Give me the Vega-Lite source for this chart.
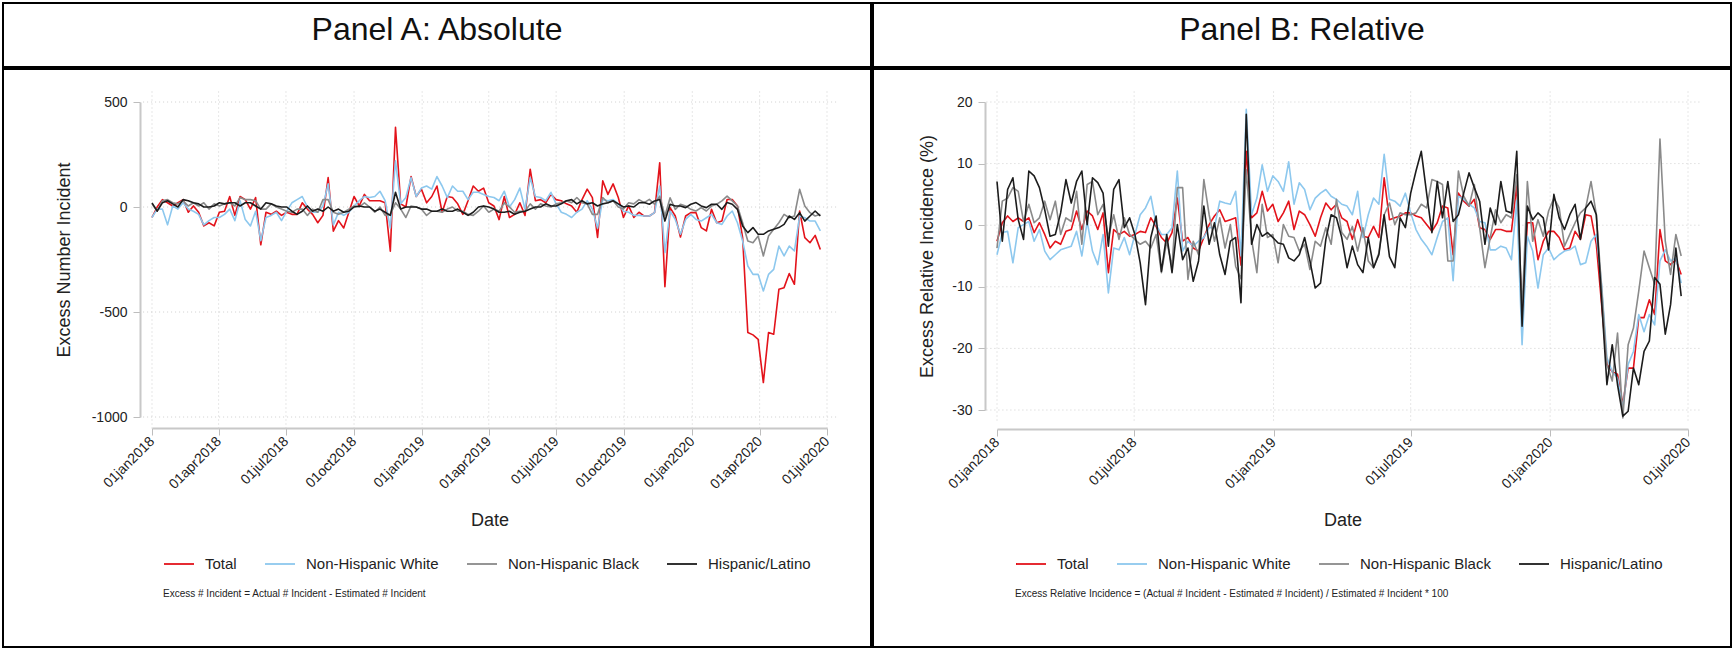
{
  "$schema": "https://vega.github.io/schema/vega-lite/v6.json",
  "padding": {"left": 2, "top": 2, "right": 0, "bottom": 0},
  "background": "white",
  "config": {
    "font": "Liberation Sans",
    "view": {"stroke": "black", "strokeWidth": 2},
    "axis": {"labelColor": "#222222", "titleColor": "#222222", "labelFontSize": 14, "titleFontSize": 18, "titleFontWeight": "normal", "tickSize": 7, "tickColor": "#bdbdbd", "domainColor": "#c8c8c8", "domainWidth": 2, "grid": false},
    "legend": {"labelFontSize": 15, "labelColor": "#222222", "labelLimit": 400, "symbolType": "stroke", "symbolSize": 900, "symbolStrokeWidth": 1.8, "labelOffset": 10, "columnPadding": 24, "titleOrient": "bottom", "titleAnchor": "start", "titleFontSize": 10, "titleFontWeight": "normal", "titleColor": "#222222", "titleLimit": 1200, "titlePadding": 17}
  },
  "datasets": {
    "abs": [
      {"d":"2018-01-01","t":-50,"w":-50,"b":15,"h":20},
      {"d":"2018-01-08","t":0,"w":-10,"b":-20,"h":-20},
      {"d":"2018-01-15","t":35,"w":-10,"b":30,"h":20},
      {"d":"2018-01-22","t":20,"w":-85,"b":35,"h":30},
      {"d":"2018-01-29","t":5,"w":5,"b":20,"h":15},
      {"d":"2018-02-05","t":20,"w":-10,"b":15,"h":0},
      {"d":"2018-02-12","t":35,"w":20,"b":30,"h":35},
      {"d":"2018-02-19","t":-25,"w":-10,"b":5,"h":30},
      {"d":"2018-02-26","t":5,"w":-20,"b":20,"h":20},
      {"d":"2018-03-05","t":-25,"w":-35,"b":5,"h":15},
      {"d":"2018-03-12","t":-90,"w":-85,"b":20,"h":0},
      {"d":"2018-03-19","t":-75,"w":-65,"b":-10,"h":0},
      {"d":"2018-03-26","t":-90,"w":-50,"b":15,"h":5},
      {"d":"2018-04-02","t":-25,"w":-50,"b":5,"h":20},
      {"d":"2018-04-09","t":-20,"w":-35,"b":15,"h":15},
      {"d":"2018-04-16","t":50,"w":-10,"b":20,"h":20},
      {"d":"2018-04-23","t":-40,"w":-65,"b":5,"h":20},
      {"d":"2018-04-30","t":50,"w":30,"b":45,"h":5},
      {"d":"2018-05-07","t":35,"w":-60,"b":35,"h":20},
      {"d":"2018-05-14","t":-10,"w":-90,"b":35,"h":20},
      {"d":"2018-05-21","t":45,"w":-20,"b":30,"h":5},
      {"d":"2018-05-28","t":-180,"w":-160,"b":-10,"h":-10},
      {"d":"2018-06-04","t":-25,"w":-50,"b":-10,"h":20},
      {"d":"2018-06-11","t":-35,"w":-40,"b":15,"h":15},
      {"d":"2018-06-18","t":-20,"w":-25,"b":0,"h":5},
      {"d":"2018-06-25","t":-40,"w":-65,"b":-10,"h":0},
      {"d":"2018-07-02","t":-25,"w":-20,"b":-20,"h":0},
      {"d":"2018-07-09","t":-35,"w":20,"b":-25,"h":-20},
      {"d":"2018-07-16","t":-35,"w":35,"b":-10,"h":-35},
      {"d":"2018-07-23","t":20,"w":50,"b":-10,"h":-20},
      {"d":"2018-07-30","t":-10,"w":0,"b":-40,"h":5},
      {"d":"2018-08-06","t":-35,"w":-25,"b":-10,"h":-20},
      {"d":"2018-08-13","t":-75,"w":-25,"b":-25,"h":-10},
      {"d":"2018-08-20","t":-40,"w":5,"b":35,"h":-20},
      {"d":"2018-08-27","t":140,"w":110,"b":35,"h":0},
      {"d":"2018-09-03","t":-115,"w":-85,"b":-25,"h":-20},
      {"d":"2018-09-10","t":-65,"w":-25,"b":-35,"h":-10},
      {"d":"2018-09-17","t":-100,"w":-40,"b":-25,"h":-25},
      {"d":"2018-09-24","t":-25,"w":-25,"b":-10,"h":-20},
      {"d":"2018-10-01","t":50,"w":5,"b":5,"h":0},
      {"d":"2018-10-08","t":5,"w":30,"b":0,"h":5},
      {"d":"2018-10-15","t":60,"w":50,"b":20,"h":0},
      {"d":"2018-10-22","t":30,"w":45,"b":0,"h":0},
      {"d":"2018-10-29","t":30,"w":50,"b":-25,"h":-20},
      {"d":"2018-11-05","t":30,"w":75,"b":0,"h":-10},
      {"d":"2018-11-12","t":20,"w":30,"b":-40,"h":-25},
      {"d":"2018-11-19","t":-210,"w":-100,"b":-35,"h":-40},
      {"d":"2018-11-26","t":380,"w":220,"b":20,"h":70},
      {"d":"2018-12-03","t":15,"w":15,"b":-10,"h":-10},
      {"d":"2018-12-10","t":0,"w":45,"b":-50,"h":0},
      {"d":"2018-12-17","t":145,"w":140,"b":5,"h":0},
      {"d":"2018-12-24","t":50,"w":50,"b":0,"h":0},
      {"d":"2018-12-31","t":85,"w":90,"b":-10,"h":-10},
      {"d":"2019-01-07","t":20,"w":100,"b":-40,"h":-10},
      {"d":"2019-01-14","t":50,"w":85,"b":-20,"h":-20},
      {"d":"2019-01-21","t":100,"w":145,"b":-20,"h":-20},
      {"d":"2019-01-28","t":-25,"w":100,"b":-25,"h":-10},
      {"d":"2019-02-04","t":50,"w":45,"b":-10,"h":-20},
      {"d":"2019-02-11","t":45,"w":100,"b":0,"h":-20},
      {"d":"2019-02-18","t":15,"w":75,"b":-20,"h":-10},
      {"d":"2019-02-25","t":-35,"w":75,"b":-20,"h":-25},
      {"d":"2019-03-04","t":30,"w":35,"b":-35,"h":-40},
      {"d":"2019-03-11","t":100,"w":70,"b":-40,"h":-25},
      {"d":"2019-03-18","t":75,"w":70,"b":-20,"h":0},
      {"d":"2019-03-25","t":90,"w":60,"b":5,"h":5},
      {"d":"2019-04-01","t":20,"w":50,"b":-25,"h":0},
      {"d":"2019-04-08","t":5,"w":45,"b":-10,"h":-10},
      {"d":"2019-04-15","t":-60,"w":30,"b":-20,"h":-25},
      {"d":"2019-04-22","t":50,"w":75,"b":20,"h":-25},
      {"d":"2019-04-29","t":-50,"w":0,"b":0,"h":-20},
      {"d":"2019-05-06","t":-35,"w":35,"b":-25,"h":-35},
      {"d":"2019-05-13","t":20,"w":90,"b":-20,"h":-25},
      {"d":"2019-05-20","t":-40,"w":-10,"b":-20,"h":-20},
      {"d":"2019-05-27","t":180,"w":140,"b":15,"h":-10},
      {"d":"2019-06-03","t":30,"w":50,"b":-10,"h":0},
      {"d":"2019-06-10","t":35,"w":45,"b":15,"h":0},
      {"d":"2019-06-17","t":20,"w":30,"b":5,"h":15},
      {"d":"2019-06-24","t":60,"w":70,"b":0,"h":5},
      {"d":"2019-07-01","t":35,"w":15,"b":15,"h":5},
      {"d":"2019-07-08","t":30,"w":-25,"b":20,"h":15},
      {"d":"2019-07-15","t":15,"w":-35,"b":30,"h":30},
      {"d":"2019-07-22","t":5,"w":-50,"b":20,"h":35},
      {"d":"2019-07-29","t":-25,"w":-25,"b":45,"h":15},
      {"d":"2019-08-05","t":35,"w":-10,"b":20,"h":30},
      {"d":"2019-08-12","t":85,"w":30,"b":15,"h":15},
      {"d":"2019-08-19","t":45,"w":-10,"b":-35,"h":20},
      {"d":"2019-08-26","t":-145,"w":-100,"b":-35,"h":5},
      {"d":"2019-09-02","t":125,"w":35,"b":45,"h":15},
      {"d":"2019-09-09","t":60,"w":30,"b":20,"h":20},
      {"d":"2019-09-16","t":110,"w":35,"b":30,"h":30},
      {"d":"2019-09-23","t":45,"w":15,"b":0,"h":15},
      {"d":"2019-09-30","t":-50,"w":-20,"b":-10,"h":0},
      {"d":"2019-10-07","t":5,"w":-25,"b":20,"h":5},
      {"d":"2019-10-14","t":-50,"w":-40,"b":15,"h":0},
      {"d":"2019-10-21","t":-25,"w":-40,"b":35,"h":20},
      {"d":"2019-10-28","t":-43,"w":-43,"b":21,"h":21},
      {"d":"2019-11-04","t":-43,"w":-43,"b":36,"h":13},
      {"d":"2019-11-11","t":-27,"w":-27,"b":13,"h":29},
      {"d":"2019-11-18","t":211,"w":100,"b":52,"h":36},
      {"d":"2019-11-25","t":-380,"w":-217,"b":-43,"h":-67},
      {"d":"2019-12-02","t":-3,"w":-19,"b":44,"h":13},
      {"d":"2019-12-09","t":-43,"w":-59,"b":-11,"h":5},
      {"d":"2019-12-16","t":-143,"w":-130,"b":13,"h":5},
      {"d":"2019-12-23","t":-43,"w":-59,"b":5,"h":-3},
      {"d":"2019-12-30","t":-27,"w":-35,"b":-11,"h":13},
      {"d":"2020-01-06","t":-27,"w":-59,"b":-19,"h":21},
      {"d":"2020-01-13","t":-98,"w":-67,"b":-3,"h":5},
      {"d":"2020-01-20","t":-114,"w":-51,"b":-19,"h":-3},
      {"d":"2020-01-27","t":-11,"w":-35,"b":5,"h":13},
      {"d":"2020-02-03","t":-75,"w":-75,"b":13,"h":13},
      {"d":"2020-02-10","t":-67,"w":-83,"b":29,"h":-11},
      {"d":"2020-02-17","t":36,"w":-43,"b":52,"h":21},
      {"d":"2020-02-24","t":36,"w":-19,"b":29,"h":13},
      {"d":"2020-03-02","t":5,"w":-75,"b":5,"h":-11},
      {"d":"2020-03-09","t":-146,"w":-162,"b":-75,"h":-90},
      {"d":"2020-03-16","t":-598,"w":-281,"b":-162,"h":-122},
      {"d":"2020-03-23","t":-609,"w":-321,"b":-170,"h":-98},
      {"d":"2020-03-30","t":-630,"w":-321,"b":-138,"h":-130},
      {"d":"2020-04-06","t":-836,"w":-400,"b":-233,"h":-130},
      {"d":"2020-04-13","t":-598,"w":-321,"b":-138,"h":-114},
      {"d":"2020-04-20","t":-606,"w":-297,"b":-106,"h":-106},
      {"d":"2020-04-27","t":-392,"w":-186,"b":-75,"h":-98},
      {"d":"2020-05-04","t":-384,"w":-233,"b":-35,"h":-83},
      {"d":"2020-05-11","t":-317,"w":-186,"b":-51,"h":-43},
      {"d":"2020-05-18","t":-368,"w":-209,"b":-43,"h":-59},
      {"d":"2020-05-25","t":-19,"w":-43,"b":84,"h":-27},
      {"d":"2020-06-01","t":-146,"w":-51,"b":5,"h":-67},
      {"d":"2020-06-08","t":-170,"w":-67,"b":-27,"h":-43},
      {"d":"2020-06-15","t":-135,"w":-67,"b":-43,"h":-19},
      {"d":"2020-06-22","t":-202,"w":-114,"b":-35,"h":-43}
    ],
    "rel": [
      {"d":"2018-01-01","t":-2.6,"w":-4.8,"b":-3.7,"h":7.1},
      {"d":"2018-01-08","t":0.4,"w":-1.2,"b":3.9,"h":-2.6},
      {"d":"2018-01-15","t":1.5,"w":-1,"b":4.4,"h":5.8},
      {"d":"2018-01-22","t":0.6,"w":-6.1,"b":6.1,"h":7.7},
      {"d":"2018-01-29","t":1.2,"w":-0.4,"b":5.5,"h":0.9},
      {"d":"2018-02-05","t":0.6,"w":0.1,"b":0.6,"h":-2.3},
      {"d":"2018-02-12","t":1.2,"w":0.6,"b":3.4,"h":8.8},
      {"d":"2018-02-19","t":-1.2,"w":-2.6,"b":0.4,"h":8},
      {"d":"2018-02-26","t":0.4,"w":-0.7,"b":1.2,"h":6.1},
      {"d":"2018-03-05","t":-1.5,"w":-4.2,"b":3.9,"h":2.5},
      {"d":"2018-03-12","t":-3.7,"w":-5.6,"b":0.9,"h":-1.8},
      {"d":"2018-03-19","t":-2.6,"w":-4.8,"b":3.9,"h":-1.5},
      {"d":"2018-03-26","t":-3.1,"w":-4,"b":-1.5,"h":2},
      {"d":"2018-04-02","t":-1,"w":-3.7,"b":1.2,"h":7.4},
      {"d":"2018-04-09","t":-0.7,"w":-3.4,"b":0.6,"h":3.6},
      {"d":"2018-04-16","t":2.3,"w":-1,"b":5.5,"h":7.1},
      {"d":"2018-04-23","t":-0.7,"w":-5,"b":-3.1,"h":8.8},
      {"d":"2018-04-30","t":2.3,"w":0.6,"b":6.6,"h":0.1},
      {"d":"2018-05-07","t":1.5,"w":-4.2,"b":7.1,"h":7.7},
      {"d":"2018-05-14","t":-0.7,"w":-6.4,"b":1.7,"h":6.9},
      {"d":"2018-05-21","t":2,"w":-1.5,"b":3.4,"h":5.2},
      {"d":"2018-05-28","t":-7.7,"w":-11,"b":-2,"h":-3.4},
      {"d":"2018-06-04","t":-0.7,"w":-3.7,"b":1.7,"h":5.8},
      {"d":"2018-06-11","t":-1.5,"w":-4,"b":-2.3,"h":7.4},
      {"d":"2018-06-18","t":-1,"w":-2,"b":1.2,"h":-0.4},
      {"d":"2018-06-25","t":-1.8,"w":-4.8,"b":-1.5,"h":1.2},
      {"d":"2018-07-02","t":-1.5,"w":-1.5,"b":-2.3,"h":-1.5},
      {"d":"2018-07-09","t":-1,"w":1.7,"b":-3.1,"h":-6.1},
      {"d":"2018-07-16","t":-1.2,"w":2.8,"b":-2.6,"h":-12.9},
      {"d":"2018-07-23","t":1.2,"w":4.7,"b":-3.7,"h":-2},
      {"d":"2018-07-30","t":-0.2,"w":0.1,"b":-1.5,"h":1.5},
      {"d":"2018-08-06","t":-2,"w":-1.5,"b":-7.7,"h":-7.5},
      {"d":"2018-08-13","t":-2.9,"w":-1.5,"b":-2.6,"h":-1.5},
      {"d":"2018-08-20","t":-1.2,"w":-0.4,"b":-6.7,"h":-7.7},
      {"d":"2018-08-27","t":4.4,"w":8.8,"b":6.1,"h":0.1},
      {"d":"2018-09-03","t":-2.6,"w":-4.2,"b":6.1,"h":-5.6},
      {"d":"2018-09-10","t":-2,"w":-2.6,"b":-8.8,"h":-3.7},
      {"d":"2018-09-17","t":-3.7,"w":-3.4,"b":-2.6,"h":-9.1},
      {"d":"2018-09-24","t":-4.2,"w":-2.6,"b":-4.8,"h":-5.8},
      {"d":"2018-10-01","t":-2,"w":-2,"b":7.4,"h":3.1},
      {"d":"2018-10-08","t":0.1,"w":-0.4,"b":1.7,"h":-3.1},
      {"d":"2018-10-15","t":1.5,"w":-0.4,"b":-2.6,"h":0.4},
      {"d":"2018-10-22","t":2.5,"w":3.9,"b":1.2,"h":-4.8},
      {"d":"2018-10-29","t":0.6,"w":3.6,"b":-3.7,"h":-8},
      {"d":"2018-11-05","t":0.9,"w":3.4,"b":0.1,"h":-2.6},
      {"d":"2018-11-12","t":1.2,"w":5.5,"b":-6.7,"h":-2},
      {"d":"2018-11-19","t":-6.5,"w":-5,"b":-8.7,"h":-12.6},
      {"d":"2018-11-26","t":12,"w":18.8,"b":9,"h":18},
      {"d":"2018-12-03","t":1.2,"w":1.7,"b":-2.3,"h":-3.1},
      {"d":"2018-12-10","t":2,"w":4.4,"b":-7.7,"h":0.1},
      {"d":"2018-12-17","t":5.5,"w":9.8,"b":3.4,"h":-1.8},
      {"d":"2018-12-24","t":2.3,"w":5.5,"b":-2,"h":-1.2},
      {"d":"2018-12-31","t":3.4,"w":8,"b":-1.5,"h":-2},
      {"d":"2019-01-07","t":0.6,"w":7.1,"b":-6.1,"h":-2.9},
      {"d":"2019-01-14","t":2,"w":5.5,"b":0.1,"h":-3.1},
      {"d":"2019-01-21","t":3.9,"w":10.3,"b":-1.8,"h":-5.3},
      {"d":"2019-01-28","t":-0.7,"w":3.4,"b":-2,"h":-5.8},
      {"d":"2019-02-04","t":2.3,"w":6.9,"b":-4.2,"h":-4.8},
      {"d":"2019-02-11","t":1.7,"w":5.8,"b":-3.1,"h":-2},
      {"d":"2019-02-18","t":0.1,"w":2.5,"b":-7.2,"h":-5.8},
      {"d":"2019-02-25","t":-1.8,"w":4.4,"b":-2.6,"h":-10.2},
      {"d":"2019-03-04","t":1.2,"w":5.2,"b":-3.4,"h":-9.4},
      {"d":"2019-03-11","t":3.6,"w":5.8,"b":-0.4,"h":-2.3},
      {"d":"2019-03-18","t":2.5,"w":4.7,"b":-3.1,"h":1.7},
      {"d":"2019-03-25","t":3.4,"w":4.2,"b":4.2,"h":1.2},
      {"d":"2019-04-01","t":1.2,"w":3.4,"b":-1.2,"h":-2},
      {"d":"2019-04-08","t":0.6,"w":3.1,"b":-2.3,"h":-6.9},
      {"d":"2019-04-15","t":-2.3,"w":1.7,"b":-0.2,"h":-3.4},
      {"d":"2019-04-22","t":0.9,"w":5.5,"b":-4.2,"h":-6.4},
      {"d":"2019-04-29","t":-1.8,"w":-2,"b":-0.4,"h":-7.7},
      {"d":"2019-05-06","t":-2,"w":1.7,"b":-5.8,"h":-2},
      {"d":"2019-05-13","t":-0.2,"w":4.4,"b":-6.9,"h":-6.9},
      {"d":"2019-05-20","t":-2,"w":3.4,"b":-4.5,"h":-4.8},
      {"d":"2019-05-27","t":7.7,"w":11.5,"b":1.7,"h":1.7},
      {"d":"2019-06-03","t":0.9,"w":4.2,"b":3.6,"h":-5.1},
      {"d":"2019-06-10","t":1.2,"w":3.9,"b":0.1,"h":-6.9},
      {"d":"2019-06-17","t":1.5,"w":3.1,"b":2,"h":1.2},
      {"d":"2019-06-24","t":2,"w":5.2,"b":1.7,"h":-0.4},
      {"d":"2019-07-01","t":2,"w":2,"b":1.7,"h":5.2},
      {"d":"2019-07-08","t":1.5,"w":-0.7,"b":2,"h":8.8},
      {"d":"2019-07-15","t":1.2,"w":-2.3,"b":3.4,"h":12},
      {"d":"2019-07-22","t":0.1,"w":-3.4,"b":2.8,"h":5.2},
      {"d":"2019-07-29","t":-1,"w":-4.8,"b":7.4,"h":-1.2},
      {"d":"2019-08-05","t":0.4,"w":-2,"b":7.1,"h":7.1},
      {"d":"2019-08-12","t":3.1,"w":0.6,"b":6.6,"h":1.2},
      {"d":"2019-08-19","t":2.8,"w":1.2,"b":-5.8,"h":7.1},
      {"d":"2019-08-26","t":-4.8,"w":-9,"b":-5.8,"h":0.6},
      {"d":"2019-09-02","t":5.2,"w":4.7,"b":8.8,"h":1.7},
      {"d":"2019-09-09","t":3.9,"w":4.2,"b":4.7,"h":5.2},
      {"d":"2019-09-16","t":3.1,"w":3.4,"b":3.1,"h":8.5},
      {"d":"2019-09-23","t":4.2,"w":2.8,"b":6.6,"h":6.1},
      {"d":"2019-09-30","t":-0.4,"w":0.6,"b":-0.4,"h":3.9},
      {"d":"2019-10-07","t":-0.7,"w":0.4,"b":-6.9,"h":-3.1},
      {"d":"2019-10-14","t":-2.3,"w":-4,"b":-2,"h":2.8},
      {"d":"2019-10-21","t":-0.7,"w":-4,"b":2.5,"h":0.1},
      {"d":"2019-10-28","t":-0.7,"w":-3.4,"b":0.4,"h":7.1},
      {"d":"2019-11-04","t":-1,"w":-3.7,"b":1.7,"h":2.3},
      {"d":"2019-11-11","t":-1,"w":-5.6,"b":1.2,"h":2},
      {"d":"2019-11-18","t":6.6,"w":4,"b":8.2,"h":12},
      {"d":"2019-11-25","t":-15,"w":-19.4,"b":-14,"h":-16.4},
      {"d":"2019-12-02","t":0.4,"w":-1.8,"b":7.1,"h":3.1},
      {"d":"2019-12-09","t":0.4,"w":-4.2,"b":-2.6,"h":0.9},
      {"d":"2019-12-16","t":-5.6,"w":-10.2,"b":0.9,"h":2},
      {"d":"2019-12-23","t":-2.6,"w":-4.8,"b":-1.8,"h":1.2},
      {"d":"2019-12-30","t":-1,"w":-3.7,"b":2.3,"h":-4},
      {"d":"2020-01-06","t":-1,"w":-5.6,"b":4.4,"h":5},
      {"d":"2020-01-13","t":-2,"w":-4.8,"b":2.8,"h":1.2},
      {"d":"2020-01-20","t":-4,"w":-4.2,"b":-3.4,"h":-0.7},
      {"d":"2020-01-27","t":-3.7,"w":-4,"b":-1.5,"h":1.7},
      {"d":"2020-02-03","t":-1,"w":-3.4,"b":0.4,"h":3.4},
      {"d":"2020-02-10","t":-2.3,"w":-6.4,"b":2,"h":-2.3},
      {"d":"2020-02-17","t":1.7,"w":-6.1,"b":2.8,"h":2.8},
      {"d":"2020-02-24","t":1.5,"w":-2.6,"b":7.1,"h":3.9},
      {"d":"2020-03-02","t":-3.1,"w":-1.5,"b":1.7,"h":1.7},
      {"d":"2020-03-09","t":-12.9,"w":-9.6,"b":-10.2,"h":-12.3},
      {"d":"2020-03-16","t":-22.6,"w":-21.5,"b":-22.6,"h":-25.9},
      {"d":"2020-03-23","t":-23.8,"w":-23.8,"b":-25.3,"h":-19.4},
      {"d":"2020-03-30","t":-24.2,"w":-24.8,"b":-17.5,"h":-25.9},
      {"d":"2020-04-06","t":-29.1,"w":-29.7,"b":-31.3,"h":-31},
      {"d":"2020-04-13","t":-23.2,"w":-22.6,"b":-19.4,"h":-30.2},
      {"d":"2020-04-20","t":-23.2,"w":-20.5,"b":-16.7,"h":-23.2},
      {"d":"2020-04-27","t":-15,"w":-14.5,"b":-10.7,"h":-25.9},
      {"d":"2020-05-04","t":-15,"w":-17.3,"b":-4.2,"h":-20.5},
      {"d":"2020-05-11","t":-12.1,"w":-14.5,"b":-6.9,"h":-18.8},
      {"d":"2020-05-18","t":-14.5,"w":-16.2,"b":-9.6,"h":-8.5},
      {"d":"2020-05-25","t":-0.7,"w":-5.8,"b":14,"h":-9.6},
      {"d":"2020-06-01","t":-5.8,"w":-4,"b":-2.6,"h":-17.7},
      {"d":"2020-06-08","t":-6.4,"w":-5.8,"b":-8,"h":-12.9},
      {"d":"2020-06-15","t":-5.6,"w":-5.3,"b":-1.5,"h":-3.7},
      {"d":"2020-06-22","t":-8,"w":-9.4,"b":-5,"h":-11.5}
    ]
  },
  "spacing": 0,
  "resolve": {"scale": {"color": "independent"}, "legend": {"color": "independent"}},
  "hconcat": [
    {
      "spacing": 0,
      "vconcat": [
        {
          "width": 868,
          "height": 64,
          "view": {"stroke": "black", "strokeWidth": 2},
          "data": {"values": [{"p": "Panel A: Absolute"}]},
          "mark": {"type": "text", "fontSize": 32, "color": "#111111", "dy": -5},
          "encoding": {
            "text": {"field": "p", "type": "nominal"},
            "x": {"datum": 0.5, "type": "quantitative", "scale": {"domain": [0, 1]}, "axis": null},
            "y": {"datum": 0.5, "type": "quantitative", "scale": {"domain": [0, 1]}, "axis": null}
          }
        },
        {
          "width": 868,
          "height": 578,
          "layer": [
            {
              "data": {"values": [{"g": 500}, {"g": 0}, {"g": -500}, {"g": -1000}]},
              "mark": {"type": "rule", "color": "#cfcfcf", "strokeDash": [1, 3], "strokeWidth": 1},
              "encoding": {
                "y": {"field": "g", "type": "quantitative", "scale": {"domain": [-1000, 500], "range": [348, 33], "nice": false, "zero": false}},
                "x": {"datum": {"year": 2017, "month": 12, "date": 20}, "type": "temporal", "scale": {"domain": [{"year": 2018, "month": 1, "date": 1}, {"year": 2020, "month": 7, "date": 1}], "range": [149, 824], "nice": false}},
                "x2": {"datum": {"year": 2020, "month": 7, "date": 17}}
              }
            },
            {
              "data": {"values": [{"g": "2018-01-01"}, {"g": "2018-04-01"}, {"g": "2018-07-01"}, {"g": "2018-10-01"}, {"g": "2019-01-01"}, {"g": "2019-04-01"}, {"g": "2019-07-01"}, {"g": "2019-10-01"}, {"g": "2020-01-01"}, {"g": "2020-04-01"}, {"g": "2020-07-01"}]},
              "mark": {"type": "rule", "color": "#cfcfcf", "strokeDash": [1, 3], "strokeWidth": 1},
              "encoding": {
                "x": {"field": "g", "type": "temporal", "scale": {"domain": [{"year": 2018, "month": 1, "date": 1}, {"year": 2020, "month": 7, "date": 1}], "range": [149, 824], "nice": false}},
                "y": {"datum": 550, "type": "quantitative", "scale": {"domain": [-1000, 500], "range": [348, 33], "nice": false, "zero": false}},
                "y2": {"datum": -1055}
              }
            },
            {
              "data": {"name": "abs"},
              "transform": [{"fold": ["t", "w", "b", "h"], "as": ["s", "v"]}],
              "mark": {"type": "line", "strokeWidth": 1.6, "strokeJoin": "round"},
              "encoding": {
                "x": {
                  "field": "d", "type": "temporal",
                  "scale": {"domain": [{"year": 2018, "month": 1, "date": 1}, {"year": 2020, "month": 7, "date": 1}], "range": [149, 824], "nice": false},
                  "axis": {
                    "values": [{"year": 2018, "month": 1, "date": 1}, {"year": 2018, "month": 4, "date": 1}, {"year": 2018, "month": 7, "date": 1}, {"year": 2018, "month": 10, "date": 1}, {"year": 2019, "month": 1, "date": 1}, {"year": 2019, "month": 4, "date": 1}, {"year": 2019, "month": 7, "date": 1}, {"year": 2019, "month": 10, "date": 1}, {"year": 2020, "month": 1, "date": 1}, {"year": 2020, "month": 4, "date": 1}, {"year": 2020, "month": 7, "date": 1}],
                    "labelExpr": "lower(timeFormat(datum.value, '%d%b%Y'))",
                    "labelAngle": -45, "labelAlign": "right", "labelBaseline": "middle", "labelPadding": 4,
                    "labelOverlap": false, "labelFlush": false,
                    "offset": -219, "title": "Date", "titlePadding": 20
                  }
                },
                "y": {
                  "field": "v", "type": "quantitative",
                  "scale": {"domain": [-1000, 500], "range": [348, 33], "nice": false, "zero": false},
                  "axis": {"values": [500, 0, -500, -1000], "labelExpr": "datum.value + ''", "labelPadding": 6, "offset": -137, "title": "Excess Number Incident", "titlePadding": 18}
                },
                "color": {
                  "field": "s", "type": "nominal",
                  "scale": {"domain": ["t", "w", "b", "h"], "range": ["#e3131b", "#8dc8ee", "#8a8a8a", "#1c1c1c"]},
                  "legend": {
                    "orient": "none", "legendX": 160, "legendY": 545, "direction": "horizontal",
                    "labelExpr": "datum.label == 't' ? 'Total' : datum.label == 'w' ? 'Non-Hispanic White' : datum.label == 'b' ? 'Non-Hispanic Black' : 'Hispanic/Latino'",
                    "title": "Excess # Incident = Actual # Incident - Estimated # Incident"
                  }
                }
              }
            }
          ]
        }
      ]
    },
    {
      "spacing": 0,
      "vconcat": [
        {
          "width": 858,
          "height": 64,
          "view": {"stroke": "black", "strokeWidth": 2},
          "data": {"values": [{"p": "Panel B: Relative"}]},
          "mark": {"type": "text", "fontSize": 32, "color": "#111111", "dy": -5},
          "encoding": {
            "text": {"field": "p", "type": "nominal"},
            "x": {"datum": 0.5, "type": "quantitative", "scale": {"domain": [0, 1]}, "axis": null},
            "y": {"datum": 0.5, "type": "quantitative", "scale": {"domain": [0, 1]}, "axis": null}
          }
        },
        {
          "width": 858,
          "height": 578,
          "layer": [
            {
              "data": {"values": [{"g": 20}, {"g": 10}, {"g": 0}, {"g": -10}, {"g": -20}, {"g": -30}]},
              "mark": {"type": "rule", "color": "#cfcfcf", "strokeDash": [1, 3], "strokeWidth": 1},
              "encoding": {
                "y": {"field": "g", "type": "quantitative", "scale": {"domain": [-30, 20], "range": [341, 33], "nice": false, "zero": false}},
                "x": {"datum": {"year": 2017, "month": 12, "date": 18}, "type": "temporal", "scale": {"domain": [{"year": 2018, "month": 1, "date": 1}, {"year": 2020, "month": 7, "date": 1}], "range": [124, 815], "nice": false}},
                "x2": {"datum": {"year": 2020, "month": 7, "date": 17}}
              }
            },
            {
              "data": {"values": [{"g": "2018-01-01"}, {"g": "2018-07-01"}, {"g": "2019-01-01"}, {"g": "2019-07-01"}, {"g": "2020-01-01"}, {"g": "2020-07-01"}]},
              "mark": {"type": "rule", "color": "#cfcfcf", "strokeDash": [1, 3], "strokeWidth": 1},
              "encoding": {
                "x": {"field": "g", "type": "temporal", "scale": {"domain": [{"year": 2018, "month": 1, "date": 1}, {"year": 2020, "month": 7, "date": 1}], "range": [124, 815], "nice": false}},
                "y": {"datum": 21.7, "type": "quantitative", "scale": {"domain": [-30, 20], "range": [341, 33], "nice": false, "zero": false}},
                "y2": {"datum": -31.8}
              }
            },
            {
              "data": {"name": "rel"},
              "transform": [{"fold": ["t", "w", "b", "h"], "as": ["s", "v"]}],
              "mark": {"type": "line", "strokeWidth": 1.6, "strokeJoin": "round"},
              "encoding": {
                "x": {
                  "field": "d", "type": "temporal",
                  "scale": {"domain": [{"year": 2018, "month": 1, "date": 1}, {"year": 2020, "month": 7, "date": 1}], "range": [124, 815], "nice": false},
                  "axis": {
                    "values": [{"year": 2018, "month": 1, "date": 1}, {"year": 2018, "month": 7, "date": 1}, {"year": 2019, "month": 1, "date": 1}, {"year": 2019, "month": 7, "date": 1}, {"year": 2020, "month": 1, "date": 1}, {"year": 2020, "month": 7, "date": 1}],
                    "labelExpr": "lower(timeFormat(datum.value, '%d%b%Y'))",
                    "labelAngle": -45, "labelAlign": "right", "labelBaseline": "middle", "labelPadding": 4,
                    "labelOverlap": false, "labelFlush": false,
                    "offset": -218, "title": "Date", "titlePadding": 20
                  }
                },
                "y": {
                  "field": "v", "type": "quantitative",
                  "scale": {"domain": [-30, 20], "range": [341, 33], "nice": false, "zero": false},
                  "axis": {"values": [20, 10, 0, -10, -20, -30], "labelExpr": "datum.value + ''", "labelPadding": 6, "offset": -112, "title": "Excess Relative Incidence (%)", "titlePadding": 15}
                },
                "color": {
                  "field": "s", "type": "nominal",
                  "scale": {"domain": ["t", "w", "b", "h"], "range": ["#e3131b", "#8dc8ee", "#8a8a8a", "#1c1c1c"]},
                  "legend": {
                    "orient": "none", "legendX": 142, "legendY": 545, "direction": "horizontal",
                    "labelExpr": "datum.label == 't' ? 'Total' : datum.label == 'w' ? 'Non-Hispanic White' : datum.label == 'b' ? 'Non-Hispanic Black' : 'Hispanic/Latino'",
                    "title": "Excess Relative Incidence = (Actual # Incident - Estimated # Incident) / Estimated # Incident * 100"
                  }
                }
              }
            }
          ]
        }
      ]
    }
  ]
}
